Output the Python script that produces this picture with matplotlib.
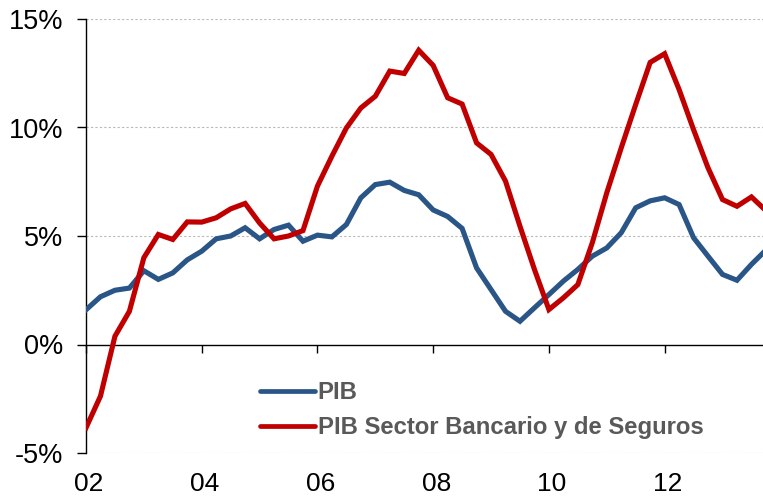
import matplotlib
matplotlib.use("Agg")
import matplotlib.pyplot as plt
import matplotlib.transforms as mtransforms
import numpy as np

plt.rcParams['font.family'] = ['Liberation Sans', 'DejaVu Sans']

# Quarterly data, 2002Q1 .. 2013Q4 (year-on-year growth, %)
pib = [1.6, 2.2, 2.5, 2.6, 3.4, 3.0, 3.3, 3.9, 4.3, 4.87, 5.0, 5.38,
       4.87, 5.3, 5.5, 4.76, 5.04, 4.96, 5.53, 6.76, 7.37, 7.48, 7.1, 6.9,
       6.2, 5.9, 5.35, 3.53, 2.53, 1.53, 1.07, 1.69, 2.3, 2.92, 3.46, 4.07,
       4.45, 5.15, 6.3, 6.62, 6.76, 6.45, 4.92, 4.07, 3.23, 2.96, 3.69, 4.35]
pib_banca = [-3.84, -2.38, 0.38, 1.53, 4.0, 5.07, 4.84, 5.65, 5.64, 5.84, 6.25, 6.5,
             5.6, 4.87, 5.0, 5.25, 7.3, 8.68, 9.98, 10.9, 11.44, 12.6, 12.49, 13.56,
             12.86, 11.37, 11.08, 9.29, 8.76, 7.53, 5.45, 3.46, 1.61, 2.15, 2.76, 4.69,
             6.99, 9.06, 11.06, 13.0, 13.4, 11.75, 9.9, 8.14, 6.68, 6.37, 6.8, 6.17]
series_labels = ["PIB", "PIB Sector Bancario y de Seguros"]
x_tick_pos = [0, 8, 16, 24, 32, 40]
x_tick_labels = ["02", "04", "06", "08", "10", "12"]
y_ticks = [-5, 0, 5, 10, 15]
y_tick_labels = ["-5%", "0%", "5%", "10%", "15%"]

W, H = 763, 498
fig = plt.figure(figsize=(W / 100, H / 100), dpi=100)
ax = fig.add_axes([86 / W, 1 - 453 / H, 1 - 86 / W, (453 - 19) / H])

q = np.arange(len(pib))
blue = "#2A5587"
red = "#C00000"
l1, = ax.plot(q, pib, color=blue, lw=3.7, solid_joinstyle='miter', label=series_labels[0], zorder=3)
l2, = ax.plot(q, pib_banca, color=red, lw=3.7, solid_joinstyle='miter', label=series_labels[1], zorder=3)

ax.set_xlim(0, 46.8)
ax.set_ylim(-5, 15)

# grid
for yv in [-5, 5, 10, 15]:
    ax.axhline(yv, color="#B8B8B8", lw=0.8, ls=(0, (2, 2)), zorder=1)

for s in ['top', 'right']:
    ax.spines[s].set_visible(False)
ax.spines['bottom'].set_position(('data', 0))
ax.spines['bottom'].set_linewidth(1.0)
ax.spines['left'].set_linewidth(1.0)

ax.set_yticks(y_ticks)
ax.set_yticklabels(y_tick_labels)
ax.set_xticks(x_tick_pos)
ax.set_xticklabels(x_tick_labels)
ax.tick_params(axis='y', direction='out', length=6.5, width=1.0, pad=10, labelsize=19.5)
ax.tick_params(axis='x', direction='out', length=6, width=1.0, pad=85.5, labelsize=19)
offset = mtransforms.ScaledTranslation(3 / 100, 0, fig.dpi_scale_trans)
for lab in ax.get_xticklabels():
    lab.set_transform(lab.get_transform() + offset)

leg = ax.legend(handles=[l1, l2], loc='upper left', bbox_to_anchor=(260 / W, 1 - 381 / H),
                bbox_transform=fig.transFigure, frameon=False, borderpad=0, borderaxespad=0,
                handlelength=2.3, handletextpad=0.12, labelspacing=0.52,
                prop={'weight': 'bold', 'size': 17.2})
for t in leg.get_texts():
    t.set_color("#595959")
for h in leg.get_lines():
    h.set_linewidth(3.4)
    h.set_solid_capstyle('round')

fig.savefig("out.png", dpi=100)
